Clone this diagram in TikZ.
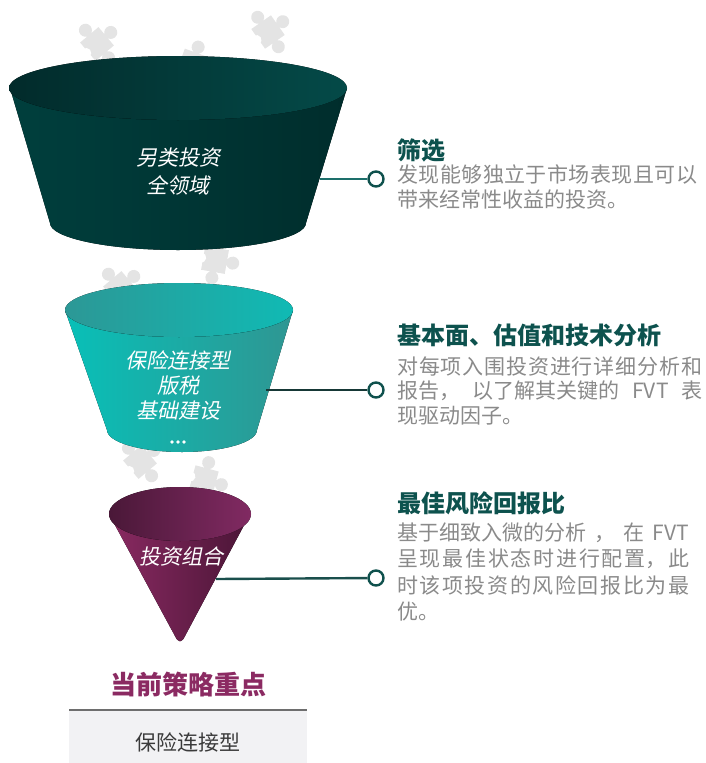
\documentclass[tikz,border=0pt]{standalone}
\usepackage{fontspec}
\setmainfont{Noto Sans CJK SC}
\newfontfamily\slantcjk[FakeSlant=0.2]{Noto Sans CJK SC}
\XeTeXlinebreaklocale "zh"
\XeTeXlinebreakskip=0pt plus 3pt
\definecolor{headteal}{HTML}{0D524E}
\definecolor{bodygray}{HTML}{8A8A8A}
\definecolor{ringteal}{HTML}{0F514D}
\definecolor{plum}{HTML}{8B2A62}
\definecolor{boxgray}{HTML}{F2F2F4}
\definecolor{rulegray}{HTML}{6E6E6E}
\definecolor{itemgray}{HTML}{3A3A3A}
\definecolor{piecegray}{HTML}{E4E4E4}
% funnel shades
\definecolor{deepA}{HTML}{003F3D}
\definecolor{deepB}{HTML}{004A47}
\definecolor{deepC}{HTML}{002D2C}
\definecolor{deepTopA}{HTML}{022B2B}
\definecolor{deepTopB}{HTML}{044A48}
\definecolor{aquaA}{HTML}{08C0B8}
\definecolor{aquaB}{HTML}{2F9692}
\definecolor{aquaTopA}{HTML}{2C9896}
\definecolor{aquaTopB}{HTML}{10BAB4}
\definecolor{plumA}{HTML}{8A2A62}
\definecolor{plumB}{HTML}{8D2D66}
\definecolor{plumC}{HTML}{4A1536}
\definecolor{plumTopA}{HTML}{4A1838}
\definecolor{plumTopB}{HTML}{812A62}
\definecolor{linkA}{HTML}{1D6F6B}
\definecolor{linkB}{HTML}{163836}
\definecolor{linkC}{HTML}{1A4F4C}
% one justified line of the given width
\newcommand{\fullline}[2]{\parbox[b]{#1}{\parindent=0pt\parfillskip=0pt\relax #2\par}}

\begin{document}
\begin{tikzpicture}[x=1pt, y=-1pt,
        piece/.pic={
            \fill[piecegray] (-12,-12) rectangle (12,12) (0,-18) circle (6.5) (18,0) circle (6.5) (0,18) circle (6.5);
            \fill[piecegray] (-2.5,-14) rectangle (2.5,14) (10,-2.5) rectangle (14,2.5);
            \fill[white] (-14,0) circle (5);
        },
        ring/.style={circle, draw=ringteal, line width=2.4pt, fill=white, minimum size=15pt, inner sep=0pt},
        link/.style={line width=2.4pt},
        head/.style={anchor=west, inner sep=0pt, text=headteal, font=\bfseries\fontsize{24}{24}\selectfont},
        body/.style={anchor=north west, inner sep=0pt, align=left, text=bodygray},
        label/.style={align=center, inner sep=0pt, text=white}
    ]
        \useasboundingbox (0,0) rectangle (705,763);

        % Puzzle pieces behind the funnels
        \foreach \px/\py/\ang in {97/44/40, 192/64/-20, 268/32/35, 120/288/40, 215/260/-10, 140/462/40, 204/480/-15} {
            \pic[rotate=\ang] at (\px,\py) {piece};
        }

        % Funnel 1
        \fill[left color=deepA, middle color=deepB, right color=deepC]
            (10,88) -- (50,223) arc[start angle=180, end angle=0, x radius=128, y radius=27] -- (347,88) -- cycle;
        \fill[left color=deepTopA, right color=deepTopB]
            (178,88) ellipse [x radius=169, y radius=32];
        \node[label, font=\slantcjk\fontsize{21}{28}\selectfont] (funnel1_text) at (178,172) {另类投资\\全领域};

        % Funnel 2
        \fill[left color=aquaA, right color=aquaB]
            (65,310) -- (107,430) arc[start angle=180, end angle=0, x radius=75, y radius=22] -- (293,310) -- cycle;
        \fill[left color=aquaTopA, right color=aquaTopB]
            (179,310) ellipse [x radius=114, y radius=27];
        \node[label, font=\slantcjk\fontsize{21}{25}\selectfont] (funnel2_text) at (178,385) {保险连接型\\版税\\基础建设};
        \foreach \i in {-1,0,1} {
            \fill[white] (178+6*\i,442) circle (1.8);
        }

        % Funnel 3
        \fill[left color=plumA, middle color=plumB, right color=plumC]
            (109,514) -- (175,636) .. controls (178,643) and (182,643) .. (185,636) -- (250,514) -- cycle;
        \fill[left color=plumTopA, right color=plumTopB]
            (180,514) ellipse [x radius=71, y radius=27];
        \node[label, font=\slantcjk\fontsize{21}{25}\selectfont] (funnel3_text) at (181,557) {投资组合};

        % Connectors
        \coordinate (funnel1_edge) at (320,179);
        \coordinate (funnel2_edge) at (266,390);
        \coordinate (funnel3_edge) at (216,579);
        \node[ring] (ring1) at (376,179) {};
        \node[ring] (ring2) at (376,390) {};
        \node[ring] (ring3) at (376,578) {};
        \draw[link, linkA] (funnel1_edge) -- (ring1);
        \draw[link, linkB] (funnel2_edge) -- (ring2);
        \draw[link, linkC] (funnel3_edge) -- (ring3);

        % Step texts
        \node[head] (head1) at (397,150) {筛选};
        \node[body, font=\fontsize{21}{25}\selectfont] (body1) at (397,164.5)
            {\fullline{300pt}{发现能够独立于市场表现且可以}\\带来经常性收益的投资。};
        \node[head] (head2) at (397,335) {基本面、估值和技术分析};
        \node[body, font=\fontsize{21}{24.5}\selectfont] (body2) at (397,356.5)
            {\fullline{305pt}{对每项入围投资进行详细分析和}\\\fullline{305pt}{报告，\hfill 以了解其关键的\hfill FVT\hfill 表}\\现驱动因子。};
        \node[head] (head3) at (397,503) {最佳风险回报比};
        \node[body, font=\fontsize{21}{26.3}\selectfont] (body3) at (397,522.5)
            {\fullline{292pt}{基于细致入微的分析\hfill ，\hfill 在\hfill FVT}\\\fullline{292pt}{呈现最佳状态时进行配置，此}\\\fullline{292pt}{时该项投资的风险回报比为最}\\优。};

        % Current focus
        \node[inner sep=0pt, text=plum, font=\bfseries\fontsize{26}{26}\selectfont] (focus_title) at (188,685) {当前策略重点};
        \fill[boxgray] (69,711) rectangle (307,763);
        \draw[rulegray, line width=2.5pt] (69,710) -- (307,710);
        \node[inner sep=0pt, text=itemgray, font=\fontsize{21}{21}\selectfont] (focus_item) at (188,742) {保险连接型};

    \end{tikzpicture}
\end{document}
